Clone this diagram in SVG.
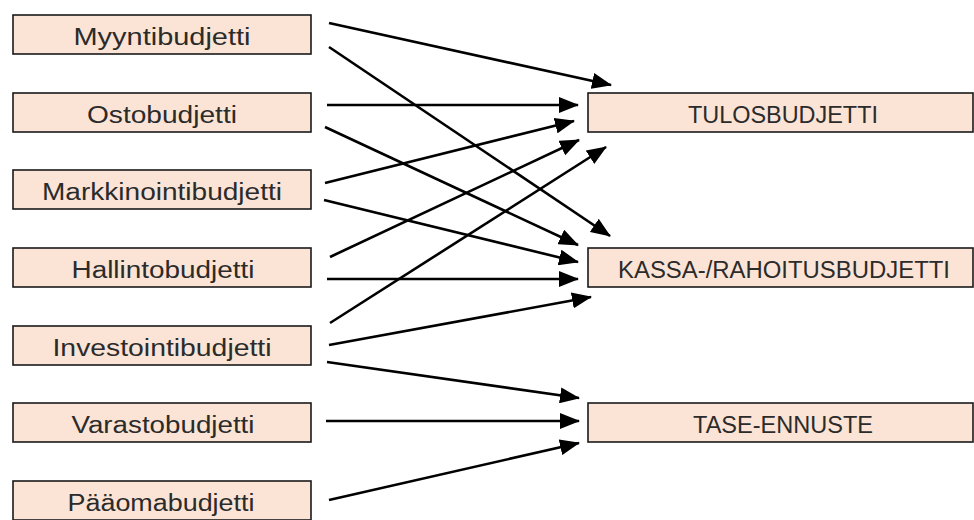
<svg xmlns="http://www.w3.org/2000/svg" width="974" height="520" viewBox="0 0 974 520">
<defs>
<style>
.box{fill:#fbe4d5;stroke:#1a1a1a;stroke-width:1.6}
.lbl{font-family:"Liberation Sans",Arial,sans-serif;font-size:23px;fill:#2b2b2b;text-anchor:middle}
.conn line{stroke:#000;stroke-width:2.6;marker-end:url(#ah)}
</style>
<marker id="ah" markerUnits="userSpaceOnUse" markerWidth="20" markerHeight="16" viewBox="0 0 20 16" refX="19" refY="8" orient="auto">
<path d="M0,0 L20,8 L0,16 Z" fill="#000"/>
</marker>
</defs>
<rect width="974" height="520" fill="#fff"/>
<g id="myynti"><rect class="box" x="13" y="15" width="298" height="39"/><text class="lbl" x="162" y="45" textLength="177" lengthAdjust="spacingAndGlyphs">Myyntibudjetti</text></g>
<g id="osto"><rect class="box" x="13" y="93" width="298" height="39"/><text class="lbl" x="162" y="123" textLength="150" lengthAdjust="spacingAndGlyphs">Ostobudjetti</text></g>
<g id="markkinointi"><rect class="box" x="13" y="170" width="298" height="39"/><text class="lbl" x="162" y="200" textLength="240" lengthAdjust="spacingAndGlyphs">Markkinointibudjetti</text></g>
<g id="hallinto"><rect class="box" x="13" y="248" width="298" height="39"/><text class="lbl" x="163" y="278" textLength="183" lengthAdjust="spacingAndGlyphs">Hallintobudjetti</text></g>
<g id="investointi"><rect class="box" x="13" y="326" width="298" height="39"/><text class="lbl" x="162" y="356" textLength="219" lengthAdjust="spacingAndGlyphs">Investointibudjetti</text></g>
<g id="varasto"><rect class="box" x="13" y="403" width="298" height="39"/><text class="lbl" x="163" y="433" textLength="183" lengthAdjust="spacingAndGlyphs">Varastobudjetti</text></g>
<g id="paaoma"><rect class="box" x="13" y="481" width="298" height="39"/><text class="lbl" x="161" y="511" textLength="187" lengthAdjust="spacingAndGlyphs">Pääomabudjetti</text></g>
<g id="tulos"><rect class="box" x="588" y="93" width="385" height="39"/><text class="lbl" x="783" y="123" textLength="190" lengthAdjust="spacingAndGlyphs">TULOSBUDJETTI</text></g>
<g id="kassa"><rect class="box" x="588" y="248" width="385" height="39"/><text class="lbl" x="784" y="278" textLength="332" lengthAdjust="spacingAndGlyphs">KASSA-/RAHOITUSBUDJETTI</text></g>
<g id="tase"><rect class="box" x="588" y="403" width="385" height="39"/><text class="lbl" x="783" y="433" textLength="180" lengthAdjust="spacingAndGlyphs">TASE-ENNUSTE</text></g>
<g id="connectors" class="conn">
<line x1="329" y1="23" x2="611" y2="85"/>
<line x1="329" y1="47" x2="610" y2="236"/>
<line x1="327" y1="105" x2="578" y2="105"/>
<line x1="325" y1="127" x2="578" y2="245"/>
<line x1="325" y1="183" x2="574" y2="121"/>
<line x1="324" y1="200" x2="578" y2="262"/>
<line x1="330" y1="257" x2="579" y2="140"/>
<line x1="327" y1="279" x2="578" y2="279"/>
<line x1="330" y1="323" x2="606" y2="147"/>
<line x1="329" y1="345" x2="591" y2="297"/>
<line x1="327" y1="362" x2="579" y2="398"/>
<line x1="326" y1="421" x2="579" y2="421"/>
<line x1="329" y1="500" x2="579" y2="443"/>
</g>
</svg>
